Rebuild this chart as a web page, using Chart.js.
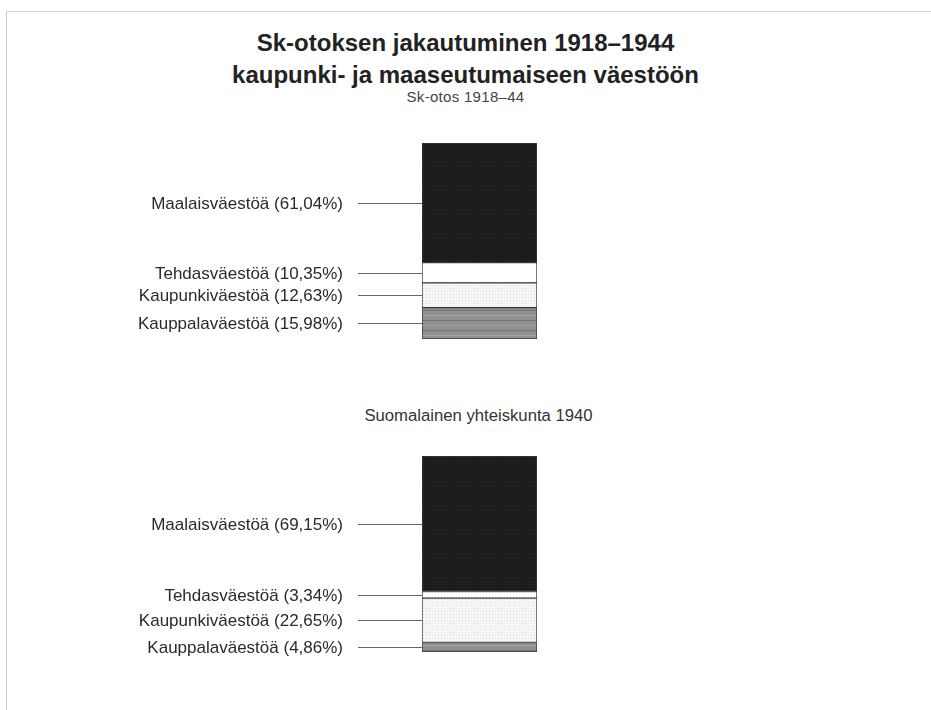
<!DOCTYPE html>
<html>
<head>
<meta charset="utf-8">
<script src="https://cdn.jsdelivr.net/npm/chart.js@4"></script>
<style>
  body { margin:0; background:#fff; width:931px; height:710px; overflow:hidden; position:relative;
         font-family:"Liberation Sans", Arial, Helvetica, sans-serif; color:#222; }
  .frame { position:absolute; left:6px; top:11px; right:-2px; bottom:-2px;
           border-top:1px solid #cfcfcf; border-left:1px solid #cfcfcf; }
  .t { position:absolute; left:0; width:931px; text-align:center; white-space:nowrap; }
  canvas { position:absolute; left:0; }
</style>
</head>
<body>
<div class="frame"></div>
<div class="t" style="top:29px;font-size:24px;font-weight:bold;">Sk-otoksen jakautuminen 1918–1944</div>
<div class="t" style="top:61px;font-size:24px;font-weight:bold;">kaupunki- ja maaseutumaiseen väestöön</div>
<div class="t" style="top:88px;font-size:15px;color:#444;letter-spacing:0.3px;">Sk-otos 1918–44</div>
<div class="t" style="top:406px;left:13px;font-size:16.7px;color:#333;">Suomalainen yhteiskunta 1940</div>

<canvas id="chart1" width="931" height="230" style="top:120px"></canvas>
<canvas id="chart2" width="931" height="230" style="top:440px"></canvas>

<script>
// ========== data (stacked from bottom to top) ==========
const categories = ["Kauppalaväestöä", "Kaupunkiväestöä", "Tehdasväestöä", "Maalaisväestöä"];
const skOtos = [15.98, 12.63, 10.35, 61.04];          // Sk-otos 1918–44
const yhteiskunta1940 = [4.86, 22.65, 3.34, 69.15];   // Suomalainen yhteiskunta 1940

// ========== fill patterns ==========
function makePattern(w, h, draw) {
  const c = document.createElement("canvas");
  c.width = w; c.height = h;
  const g = c.getContext("2d");
  draw(g);
  return g.createPattern(c, "repeat");
}
const fills = [
  // kauppala: gray with horizontal stripes
  makePattern(4, 10, g => {
    g.fillStyle = "#909090"; g.fillRect(0, 0, 4, 10);
    g.fillStyle = "#747474"; g.fillRect(0, 0, 4, 1);
    g.fillStyle = "#a4a4a4"; g.fillRect(0, 5, 4, 1);
  }),
  // kaupunki: light dotted grid
  makePattern(3, 3, g => {
    g.fillStyle = "#f6f6f6"; g.fillRect(0, 0, 3, 3);
    g.fillStyle = "#dcdcdc"; g.fillRect(0, 0, 1, 1);
  }),
  // tehdas: white
  "#ffffff",
  // maalais: near black, slight texture
  makePattern(3, 3, g => {
    g.fillStyle = "#1c1c1c"; g.fillRect(0, 0, 3, 3);
    g.fillStyle = "#262626"; g.fillRect(0, 0, 1, 1);
  })
];

function fmt(v) {
  return v.toFixed(2).replace(".", ",") + "%";
}

// ========== labels with leader lines ==========
const leaderLabels = {
  id: "leaderLabels",
  afterDraw(chart) {
    const ctx = chart.ctx;
    const left = chart.chartArea.left;
    ctx.save();
    ctx.font = '17px "Liberation Sans", Arial, sans-serif';
    ctx.fillStyle = "#2a2a2a";
    ctx.textAlign = "right";
    ctx.textBaseline = "middle";
    chart.data.datasets.forEach((ds, i) => {
      const el = chart.getDatasetMeta(i).data[0];
      const y = Math.round((el.y + el.base) / 2) + 0.5;
      ctx.fillText(ds.label + " (" + fmt(ds.data[0]) + ")", left - 79, y + 1);
      ctx.strokeStyle = "#666";
      ctx.lineWidth = 1;
      ctx.beginPath();
      ctx.moveTo(left - 64, y);
      ctx.lineTo(left, y);
      ctx.stroke();
    });
    ctx.restore();
  }
};

function drawStack(id, title, values, padTop, padBottom) {
  return new Chart(document.getElementById(id), {
    type: "bar",
    data: {
      labels: [title],
      datasets: categories.map((name, i) => ({
        label: name,
        data: [values[i]],
        backgroundColor: fills[i],
        borderColor: "#3a3a3a",
        borderWidth: 1,
        borderSkipped: false,
        barPercentage: 1,
        categoryPercentage: 1
      }))
    },
    options: {
      responsive: false,
      animation: false,
      layout: { padding: { left: 422, right: 394, top: padTop, bottom: padBottom } },
      plugins: { legend: { display: false }, tooltip: { enabled: false } },
      scales: {
        x: { stacked: true, display: false },
        y: { stacked: true, display: false, min: 0, max: 100 }
      }
    },
    plugins: [leaderLabels]
  });
}

drawStack("chart1", "Sk-otos 1918–44", skOtos, 23, 11);
drawStack("chart2", "Suomalainen yhteiskunta 1940", yhteiskunta1940, 16, 18);
</script>
</body>
</html>
